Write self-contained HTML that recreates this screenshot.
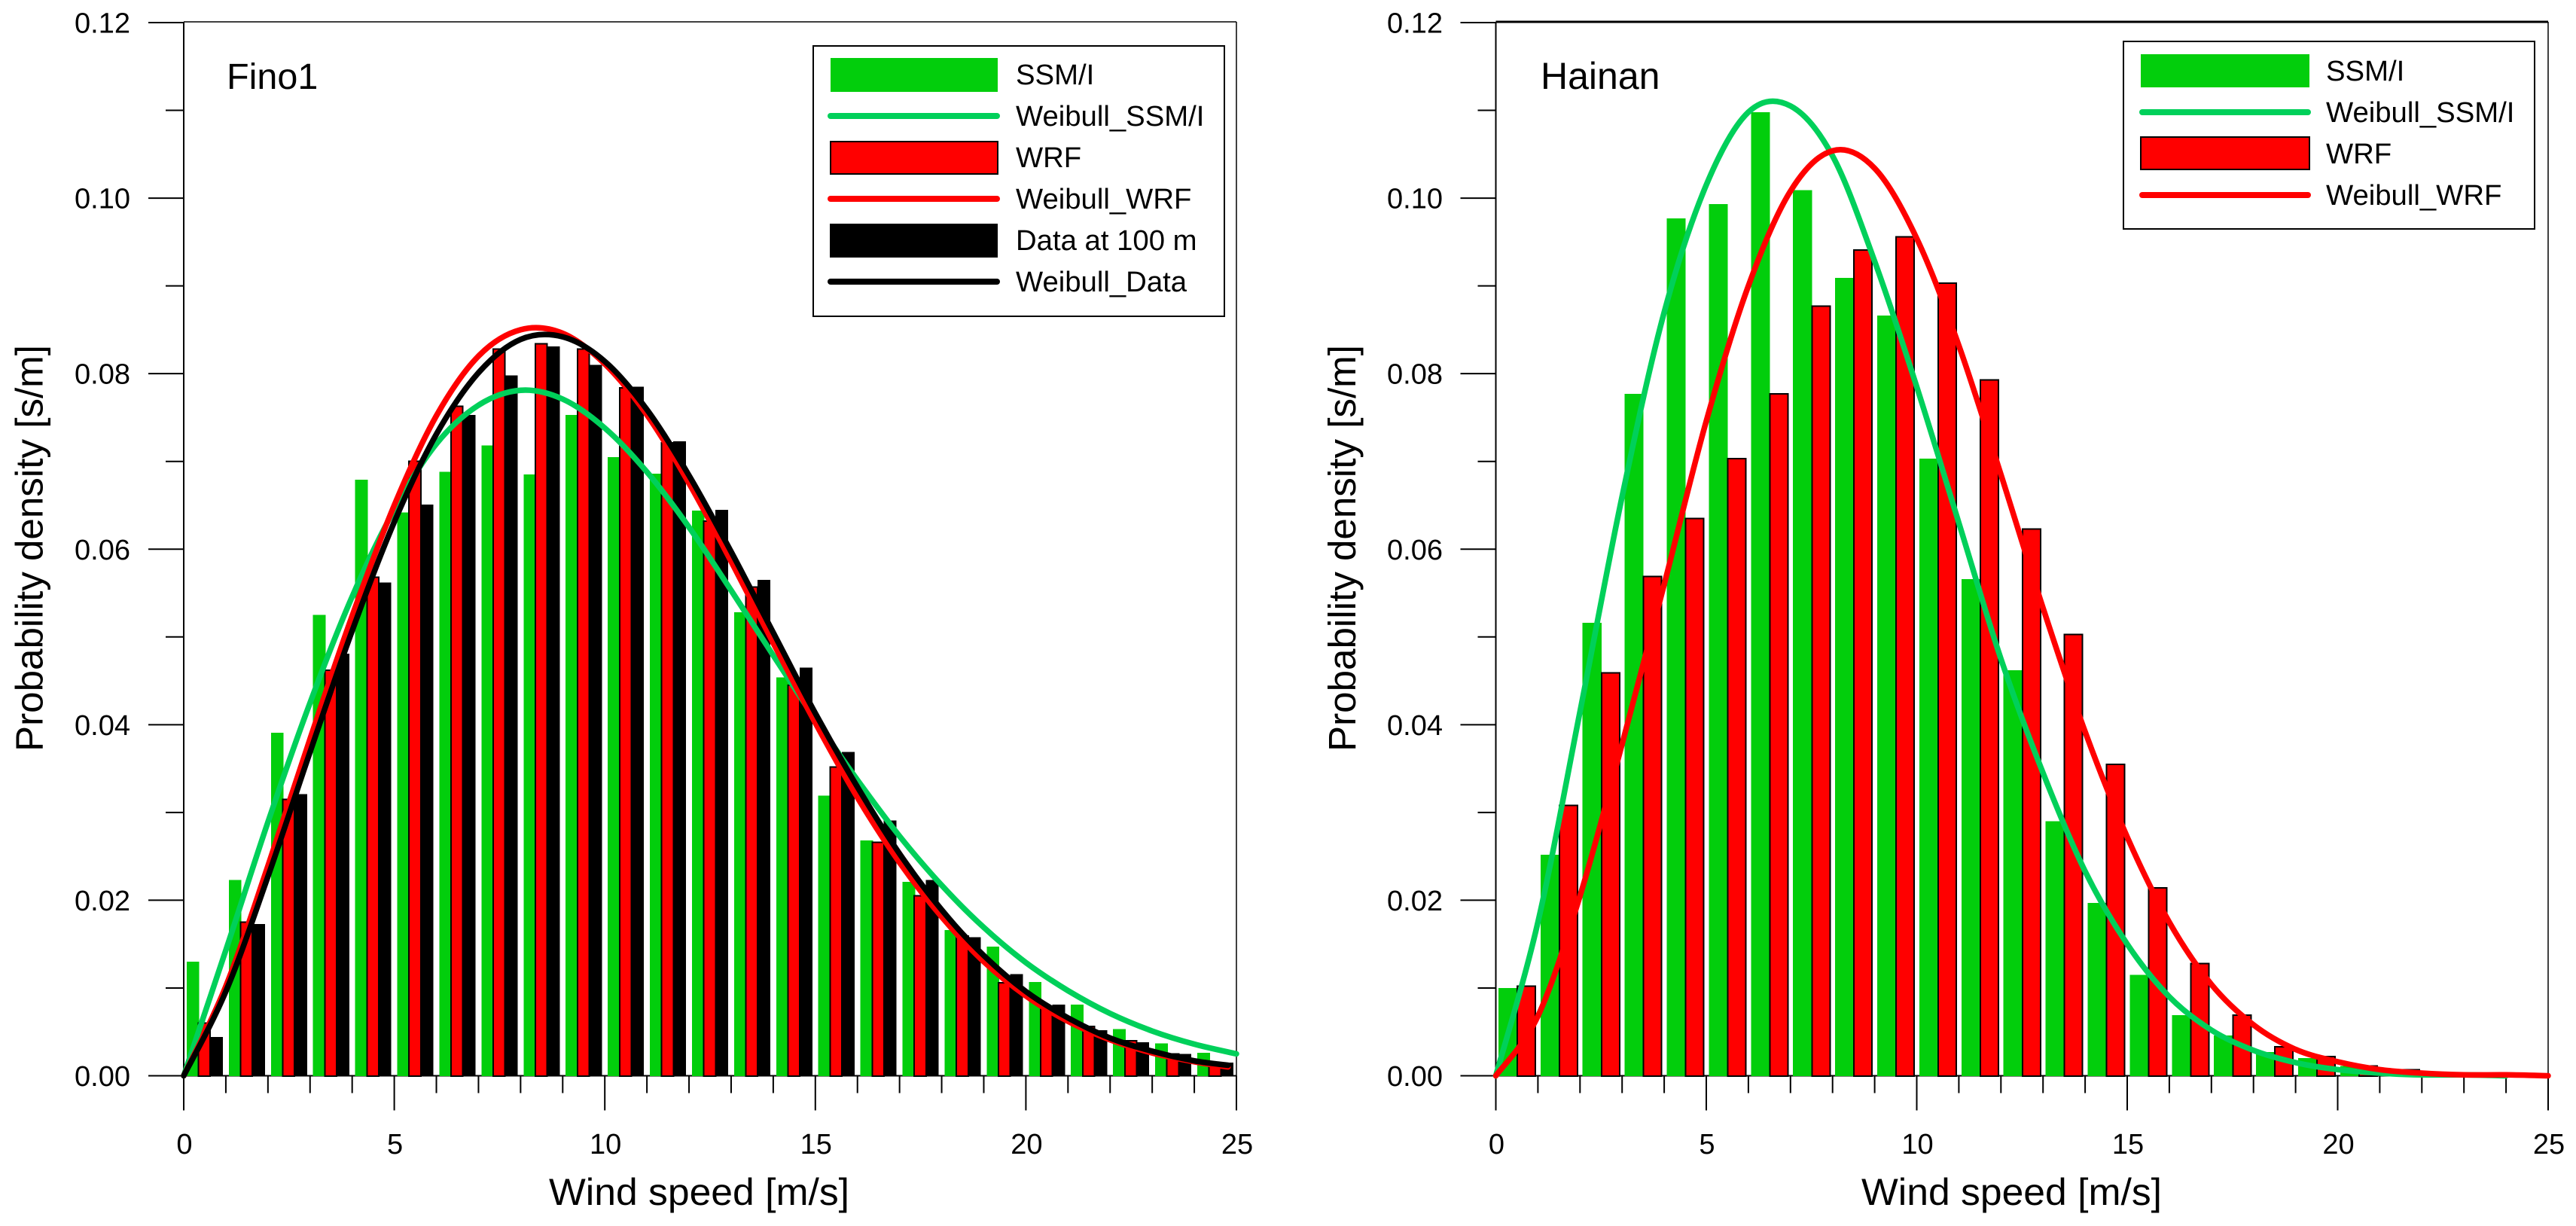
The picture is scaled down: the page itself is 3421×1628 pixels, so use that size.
<!DOCTYPE html>
<html lang="en">
<head>
<meta charset="utf-8">
<title>Wind speed probability density</title>
<style>
html,body{margin:0;padding:0;background:#fff;}
svg{display:block;}
text{font-family:"Liberation Sans",Arial,sans-serif;fill:#000;}
</style>
</head>
<body>
<svg id="chart" xmlns="http://www.w3.org/2000/svg" width="3421" height="1628" viewBox="0 0 3421 1628">
  <rect x="0" y="0" width="3421" height="1628" fill="#fff"/>
  <g id="panel-a"></g>
  <g id="panel-b"></g>

  <text x="301" y="118" font-size="48.5">Fino1</text>
  <text x="2046" y="118" font-size="50">Hainan</text>

  <text x="729" y="1600" font-size="50" textLength="399" lengthAdjust="spacingAndGlyphs">Wind speed [m/s]</text>
  <text x="2472" y="1600" font-size="50" textLength="399" lengthAdjust="spacingAndGlyphs">Wind speed [m/s]</text>
  <text transform="translate(56.5,998) rotate(-90)" font-size="51" textLength="540" lengthAdjust="spacingAndGlyphs">Probability density [s/m]</text>
  <text transform="translate(1800,998) rotate(-90)" font-size="51" textLength="540" lengthAdjust="spacingAndGlyphs">Probability density [s/m]</text>

  <g>
    <rect x="1080" y="61" width="546" height="359" fill="#fff" stroke="#000" stroke-width="2"/>
    <rect x="1103" y="77" width="222" height="45" fill="#02ce0c"/>
    <line x1="1103" y1="154" x2="1324" y2="154" stroke="#00d05a" stroke-width="8" stroke-linecap="round"/>
    <rect x="1103" y="188" width="222" height="43" fill="#ff0000" stroke="#000" stroke-width="2"/>
    <line x1="1103" y1="264" x2="1324" y2="264" stroke="#ff0000" stroke-width="8" stroke-linecap="round"/>
    <rect x="1102" y="297" width="223" height="45" fill="#000"/>
    <line x1="1103" y1="374" x2="1324" y2="374" stroke="#000" stroke-width="8" stroke-linecap="round"/>
    <text x="1349" y="112" font-size="38.3">SSM/I</text>
    <text x="1349" y="167" font-size="38.3">Weibull_SSM/I</text>
    <text x="1349" y="222" font-size="38.3">WRF</text>
    <text x="1349" y="277" font-size="38.3">Weibull_WRF</text>
    <text x="1349" y="332" font-size="38.3">Data at 100 m</text>
    <text x="1349" y="387" font-size="38.3">Weibull_Data</text>
  </g>

  <g>
    <rect x="2820" y="55" width="546" height="249" fill="#fff" stroke="#000" stroke-width="2"/>
    <rect x="2843" y="72" width="224" height="44" fill="#02ce0c"/>
    <line x1="2845" y1="149" x2="3065" y2="149" stroke="#00d05a" stroke-width="8" stroke-linecap="round"/>
    <rect x="2843" y="182" width="224" height="43" fill="#ff0000" stroke="#000" stroke-width="2"/>
    <line x1="2845" y1="259" x2="3065" y2="259" stroke="#ff0000" stroke-width="8" stroke-linecap="round"/>
    <text x="3089" y="107" font-size="38.3">SSM/I</text>
    <text x="3089" y="162" font-size="38.3">Weibull_SSM/I</text>
    <text x="3089" y="217" font-size="38.3">WRF</text>
    <text x="3089" y="272" font-size="38.3">Weibull_WRF</text>
  </g>
</svg>

<script>
// ---- shared axis data ----
const xTickLabels = ["0", "5", "10", "15", "20", "25"];
const xMinorTicks = [1, 2, 3, 4, 6, 7, 8, 9, 11, 12, 13, 14, 16, 17, 18, 19, 21, 22, 23, 24];
const yTickLabels = ["0.00", "0.02", "0.04", "0.06", "0.08", "0.10", "0.12"];
const yMinorTicks = [0.01, 0.03, 0.05, 0.07, 0.09, 0.11];
const binStarts = [0, 1, 2, 3, 4, 5, 6, 7, 8, 9, 10, 11, 12, 13, 14, 15, 16, 17, 18, 19, 20, 21, 22, 23, 24];

// ---- Fino1 histogram values ----
const finoSsmBars = [0.0130, 0.0223, 0.0391, 0.0525, 0.0679, 0.0642, 0.0688, 0.0718, 0.0685, 0.0753, 0.0705, 0.0686, 0.0644, 0.0528, 0.0454, 0.0319, 0.0268, 0.0221, 0.0166, 0.0147, 0.0107, 0.0081, 0.0053, 0.0037, 0.0026];
const finoWrfBars = [0.0060, 0.0175, 0.0315, 0.0462, 0.0568, 0.0700, 0.0763, 0.0828, 0.0834, 0.0828, 0.0784, 0.0721, 0.0632, 0.0557, 0.0445, 0.0352, 0.0266, 0.0205, 0.0159, 0.0106, 0.0078, 0.0056, 0.0040, 0.0025, 0.0011];
const finoDataBars = [0.0044, 0.0173, 0.0321, 0.0481, 0.0562, 0.0651, 0.0753, 0.0798, 0.0831, 0.0810, 0.0785, 0.0723, 0.0645, 0.0565, 0.0465, 0.0369, 0.0291, 0.0223, 0.0158, 0.0116, 0.0081, 0.0052, 0.0038, 0.0025, 0.0015];

// ---- Fino1 fitted curves (read at each m/s) ----
const finoSsmCurveX = [0, 1, 2, 3, 4, 5, 6, 7, 8, 9, 10, 11, 12, 13, 14, 15, 16, 17, 18, 19, 20, 21, 22, 23, 24, 25];
const finoSsmCurve = [0, 0.0143, 0.0289, 0.0425, 0.0546, 0.0645, 0.0720, 0.0764, 0.0781, 0.0771, 0.0738, 0.0688, 0.0625, 0.0553, 0.0479, 0.0406, 0.0337, 0.0273, 0.0217, 0.0169, 0.0129, 0.0097, 0.0071, 0.0051, 0.0036, 0.0025];
const finoWrfCurveX = [0, 1, 2, 3, 4, 5, 6, 7, 8, 9, 10, 11, 12, 13, 14, 15, 16, 17, 18, 19, 20, 21, 22, 23, 24, 24.8];
const finoWrfCurve = [0, 0.0102, 0.0239, 0.0384, 0.0524, 0.0650, 0.0752, 0.0820, 0.0850, 0.0846, 0.0811, 0.0753, 0.0675, 0.0586, 0.0493, 0.0402, 0.0317, 0.0243, 0.0181, 0.0130, 0.0091, 0.0062, 0.0041, 0.0026, 0.0016, 0.0010];
const finoDataCurveX = [0, 1, 2, 3, 4, 5, 6, 7, 8, 9, 10, 11, 12, 13, 14, 15, 16, 17, 18, 19, 20, 21, 22, 23, 24, 24.8];
const finoDataCurve = [0, 0.0096, 0.0227, 0.0369, 0.0507, 0.0631, 0.0731, 0.0801, 0.0839, 0.0842, 0.0814, 0.0759, 0.0684, 0.0597, 0.0505, 0.0413, 0.0329, 0.0253, 0.0189, 0.0137, 0.0096, 0.0066, 0.0043, 0.0028, 0.0017, 0.0012];

// ---- Hainan histogram values ----
const hainanSsmBars = [0.0100, 0.0252, 0.0516, 0.0777, 0.0977, 0.0993, 0.1098, 0.1009, 0.0909, 0.0866, 0.0703, 0.0566, 0.0462, 0.0290, 0.0197, 0.0115, 0.0069, 0.0046, 0.0027, 0.0020, 0.0011, 0.0005, 0.0002, 0.0001, 0.0001];
const hainanWrfBars = [0.0102, 0.0308, 0.0459, 0.0569, 0.0635, 0.0703, 0.0777, 0.0877, 0.0941, 0.0956, 0.0903, 0.0793, 0.0623, 0.0503, 0.0355, 0.0214, 0.0128, 0.0069, 0.0033, 0.0022, 0.0011, 0.0007, 0.0003, 0.0001, 0.0001];

// ---- Hainan fitted curves (read at each m/s) ----
const hainanSsmCurveX = [0, 1, 2, 3, 4, 5, 6, 7, 8, 9, 10, 11, 12, 13, 14, 15, 16, 17, 18, 19, 20, 21, 22, 23, 24];
const hainanSsmCurve = [0, 0.0175, 0.0415, 0.0660, 0.0870, 0.1015, 0.1098, 0.1105, 0.1048, 0.0928, 0.0785, 0.0630, 0.0475, 0.0345, 0.0233, 0.0150, 0.0090, 0.0052, 0.0029, 0.0015, 0.0007, 0.0003, 0.0001, 0.0001, 0.0000];
const hainanWrfCurveX = [0, 1, 2, 3, 4, 5, 6, 7, 8, 9, 10, 11, 12, 13, 14, 15, 16, 17, 18, 19, 20, 21, 22, 23, 24, 25];
const hainanWrfCurve = [0, 0.0068, 0.0205, 0.0378, 0.0560, 0.0746, 0.0900, 0.1008, 0.1054, 0.1034, 0.0954, 0.0832, 0.0685, 0.0533, 0.0392, 0.0272, 0.0175, 0.0104, 0.0058, 0.0030, 0.0016, 0.0007, 0.0003, 0.0001, 0.0001, 0.0000];

const NS = "http://www.w3.org/2000/svg";

function mk(parent, tag, attrs) {
  const el = document.createElementNS(NS, tag);
  for (const k in attrs) el.setAttribute(k, attrs[k]);
  parent.appendChild(el);
  return el;
}

function smoothPath(xs, ys, sx, sy) {
  const p = xs.map((x, i) => [sx(x), sy(ys[i])]);
  let d = "M" + p[0][0].toFixed(1) + " " + p[0][1].toFixed(1);
  for (let i = 0; i < p.length - 1; i++) {
    const a = p[Math.max(0, i - 1)], b = p[i], c = p[i + 1], e = p[Math.min(p.length - 1, i + 2)];
    const c1x = b[0] + (c[0] - a[0]) / 6, c1y = b[1] + (c[1] - a[1]) / 6;
    const c2x = c[0] - (e[0] - b[0]) / 6, c2y = c[1] - (e[1] - b[1]) / 6;
    d += "C" + c1x.toFixed(1) + " " + c1y.toFixed(1) + " " + c2x.toFixed(1) + " " + c2y.toFixed(1) + " " + c[0].toFixed(1) + " " + c[1].toFixed(1);
  }
  return d;
}

function drawPanel(root, prefix, left, right, labelRight, topWidth, barSeries, curveSeries) {
  const top = 30, bottom = 1428.5;
  const sx = v => left + (v / 25) * (right - left);
  const sy = v => bottom - (v / 0.12) * (bottom - top);

  // frame top and right edges
  let el = mk(root, "line", {x1: left, y1: top - 1, x2: right, y2: top - 1, stroke: "#000", "stroke-width": topWidth});
  
  
  el = mk(root, "line", {x1: right, y1: top - 1, x2: right, y2: bottom, stroke: "#000", "stroke-width": 1.5});
  
  

  // axes
  el = mk(root, "line", {x1: left, y1: top - 1, x2: left, y2: bottom, stroke: "#000", "stroke-width": 2});
  
  
  el = mk(root, "line", {x1: left, y1: bottom, x2: right, y2: bottom, stroke: "#000", "stroke-width": 2});
  
  

  // y ticks
  yTickLabels.forEach(lbl => {
    const v = parseFloat(lbl);
    const t = mk(root, "line", {x1: left - 47, y1: sy(v), x2: left, y2: sy(v), stroke: "#000", "stroke-width": 2});
    
    
    const tx = mk(root, "text", {x: labelRight, y: sy(v) + 13.5, "font-size": 38, "text-anchor": "end"});
    tx.textContent = lbl;
    
    
  });
  yMinorTicks.forEach(v => {
    const t = mk(root, "line", {x1: left - 24, y1: sy(v), x2: left, y2: sy(v), stroke: "#000", "stroke-width": 2});
    
    
  });

  // x ticks
  xTickLabels.forEach(lbl => {
    const v = parseFloat(lbl);
    const t = mk(root, "line", {x1: sx(v), y1: bottom, x2: sx(v), y2: bottom + 46, stroke: "#000", "stroke-width": 2});
    
    
    const tx = mk(root, "text", {x: sx(v) + 1, y: 1532, "font-size": 38, "text-anchor": "middle"});
    tx.textContent = lbl;
    
    
  });
  xMinorTicks.forEach(v => {
    const t = mk(root, "line", {x1: sx(v), y1: bottom, x2: sx(v), y2: bottom + 23, stroke: "#000", "stroke-width": 2});
    
    
  });

  // bars
  barSeries.forEach(s => {
    binStarts.forEach((start, i) => {
      const x0 = sx(start + s.offset), x1 = sx(start + s.offset + s.width);
      const y0 = sy(s.values[i]);
      const b = mk(root, "rect", {
        x: x0, y: y0, width: x1 - x0, height: Math.max(0, bottom + 0.5 - y0),
        fill: s.fill, "shape-rendering": "crispEdges"
      });
      if (s.outline) {
        b.setAttribute("stroke", "#000");
        b.setAttribute("stroke-width", "2");
      }
      
      
    });
  });

  // curves
  curveSeries.forEach(s => {
    const c = mk(root, "path", {
      d: smoothPath(s.xs, s.ys, sx, sy), fill: "none", stroke: s.color,
      "stroke-width": 7.5, "stroke-linejoin": "round", "stroke-linecap": "round"
    });
    
    
  });
}

drawPanel(document.getElementById("panel-a"), "fino1", 244, 1642, 173, 1.5,
  [
    {name: "ssmi", values: finoSsmBars, offset: 0.07, width: 0.30, fill: "#02ce0c", outline: false},
    {name: "wrf", values: finoWrfBars, offset: 0.35, width: 0.28, fill: "#ff0000", outline: true},
    {name: "data", values: finoDataBars, offset: 0.625, width: 0.305, fill: "#000000", outline: false}
  ],
  [
    {name: "weibull-ssmi", xs: finoSsmCurveX, ys: finoSsmCurve, color: "#00d05a"},
    {name: "weibull-wrf", xs: finoWrfCurveX, ys: finoWrfCurve, color: "#ff0000"},
    {name: "weibull-data", xs: finoDataCurveX, ys: finoDataCurve, color: "#000000"}
  ]);

drawPanel(document.getElementById("panel-b"), "hainan", 1986.5, 3384, 1916, 3,
  [
    {name: "ssmi", values: hainanSsmBars, offset: 0.06, width: 0.45, fill: "#02ce0c", outline: false},
    {name: "wrf", values: hainanWrfBars, offset: 0.51, width: 0.43, fill: "#ff0000", outline: true}
  ],
  [
    {name: "weibull-ssmi", xs: hainanSsmCurveX, ys: hainanSsmCurve, color: "#00d05a"},
    {name: "weibull-wrf", xs: hainanWrfCurveX, ys: hainanWrfCurve, color: "#ff0000"}
  ]);

// keep legends and labels above the plotted marks
const svgRoot = document.getElementById("chart");
svgRoot.appendChild(document.getElementById("panel-a"));
svgRoot.appendChild(document.getElementById("panel-b"));
Array.from(svgRoot.querySelectorAll(":scope > text, :scope > g:not([id])")).forEach(n => svgRoot.appendChild(n));
</script>
</body>
</html>
